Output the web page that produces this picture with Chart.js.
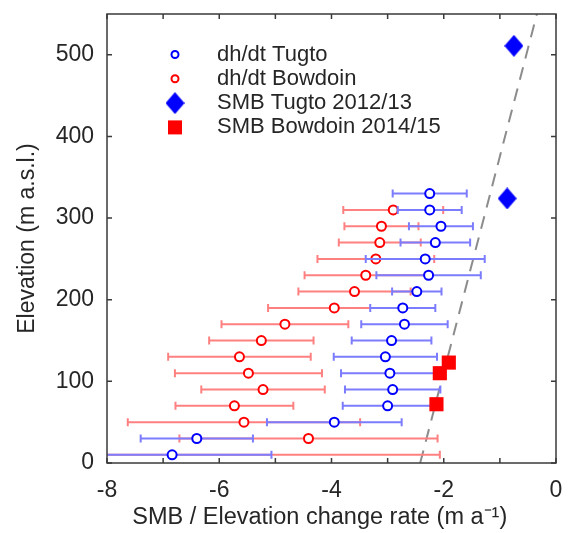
<!DOCTYPE html>
<html>
<head>
<meta charset="utf-8">
<script src="https://cdn.jsdelivr.net/npm/chart.js@4/dist/chart.umd.min.js"></script>
<style>
  html, body { margin: 0; padding: 0; background: #fff; }
  #wrap { width: 569px; height: 533px; }
</style>
</head>
<body>
<div id="wrap"><canvas id="smbChart" width="569" height="533"></canvas></div>
<script>
// elevation bins (m a.s.l.) and dh/dt values (m a-1) with +/- errors
var elevTugto = [330, 310, 290, 270, 250, 230, 210, 190, 170, 150, 130, 110, 90, 70, 50, 30, 10];
var rateTugto = [-2.25, -2.25, -2.05, -2.15, -2.33, -2.27, -2.48, -2.73, -2.70, -2.93, -3.04, -2.96, -2.91, -3.00, -3.95, -6.40, -6.84];
var errTugto  = [0.66, 0.57, 0.57, 0.62, 1.06, 0.93, 0.44, 0.58, 0.77, 0.71, 0.92, 0.87, 0.85, 0.80, 1.20, 1.00, 1.77];

var elevBowdoin = [310, 290, 270, 250, 230, 210, 190, 170, 150, 130, 110, 90, 70, 50, 30, 10];
var rateBowdoin = [-2.90, -3.11, -3.14, -3.21, -3.39, -3.59, -3.95, -4.83, -5.25, -5.64, -5.48, -5.22, -5.73, -5.56, -4.41, -9.00];
var errBowdoin  = [0.89, 0.66, 0.73, 1.04, 1.09, 1.00, 1.18, 1.13, 0.93, 1.27, 1.31, 1.10, 1.05, 2.07, 2.30, 6.93];

// SMB stake measurements
var smbTugtoRate = [-0.75, -0.87];
var smbTugtoElev = [511, 324];
var smbBowdoinRate = [-1.91, -2.07, -2.13];
var smbBowdoinElev = [123, 110, 72];

// gradient line (dashed)
var gradRate = [-2.42, -0.34];
var gradElev = [0, 550];

var xTicks = [-8, -6, -4, -2, 0];
var yTicks = [0, 100, 200, 300, 400, 500];

function pts(xs, ys) {
    return xs.map(function(v, i) { return {x: v, y: ys[i]}; });
}

var FONT = "'Liberation Sans', Arial, Helvetica, sans-serif";
var TEXT = '#262626';

// tall diamond marker
function diamond(w, h, color) {
    var c = document.createElement('canvas');
    c.width = w; c.height = h;
    var g = c.getContext('2d');
    g.fillStyle = color;
    g.beginPath();
    g.moveTo(w / 2, 0); g.lineTo(w, h / 2); g.lineTo(w / 2, h); g.lineTo(0, h / 2);
    g.closePath();
    g.fill();
    return c;
}
var diamondImg = diamond(19, 22, '#0000ff');

var errorBars = {
    id: 'errorBars',
    beforeDatasetDraw: function(chart, args) {
        var ds = chart.data.datasets[args.index];
        if (!ds.errors) return;
        var ctx = chart.ctx, a = chart.chartArea, xs = chart.scales.x, ys = chart.scales.y;
        ctx.save();
        ctx.beginPath();
        ctx.rect(a.left, a.top, a.right - a.left, a.bottom - a.top);
        ctx.clip();
        ctx.strokeStyle = ds.barColor;
        ctx.lineWidth = 2;
        ds.data.forEach(function(p, i) {
            var x0 = xs.getPixelForValue(p.x - ds.errors[i]);
            var x1 = xs.getPixelForValue(p.x + ds.errors[i]);
            var py = ys.getPixelForValue(p.y);
            ctx.beginPath();
            ctx.moveTo(x0, py); ctx.lineTo(x1, py);
            ctx.moveTo(x0, py - 4); ctx.lineTo(x0, py + 4);
            ctx.moveTo(x1, py - 4); ctx.lineTo(x1, py + 4);
            ctx.stroke();
        });
        ctx.restore();
    }
};

// box around the axes with inward ticks on all four sides
var axesBox = {
    id: 'axesBox',
    afterDraw: function(chart) {
        var ctx = chart.ctx, a = chart.chartArea, xs = chart.scales.x, ys = chart.scales.y;
        ctx.save();
        ctx.strokeStyle = '#3a3a3a';
        ctx.lineWidth = 1.5;
        ctx.strokeRect(a.left, a.top, a.right - a.left, a.bottom - a.top);
        ctx.beginPath();
        for (var v = -8; v <= 0; v++) {
            var px = xs.getPixelForValue(v);
            ctx.moveTo(px, a.bottom); ctx.lineTo(px, a.bottom - 5);
            ctx.moveTo(px, a.top); ctx.lineTo(px, a.top + 5);
        }
        yTicks.forEach(function(t) {
            var py = ys.getPixelForValue(t);
            ctx.moveTo(a.left, py); ctx.lineTo(a.left + 5, py);
            ctx.moveTo(a.right, py); ctx.lineTo(a.right - 5, py);
        });
        ctx.stroke();
        ctx.restore();
    }
};

// legend inside the axes, top left
var boxLegend = {
    id: 'boxLegend',
    afterDraw: function(chart) {
        var ctx = chart.ctx;
        var items = chart.data.datasets.filter(function(d) { return d.inLegend; });
        ctx.save();
        ctx.font = '22px ' + FONT;
        ctx.fillStyle = TEXT;
        ctx.textBaseline = 'middle';
        items.forEach(function(d, i) {
            var cy = 54.5 + i * 24.3, cx = 175;
            if (d.pointStyle === 'circle') {
                ctx.beginPath();
                ctx.arc(cx, cy, 3.5, 0, Math.PI * 2);
                ctx.strokeStyle = d.borderColor;
                ctx.lineWidth = 2;
                ctx.stroke();
            } else if (d.pointStyle === 'rect') {
                ctx.fillStyle = d.backgroundColor;
                ctx.fillRect(cx - 7, cy - 7, 14, 14);
            } else {
                ctx.drawImage(d.pointStyle, cx - d.pointStyle.width / 2, cy - d.pointStyle.height / 2);
            }
            ctx.fillStyle = TEXT;
            ctx.fillText(d.label, 217, cy);
        });
        ctx.restore();
    }
};

var chart = document.getElementById('smbChart').getContext('2d');

var myChart = new Chart(chart, {
    type: 'scatter',
    data: {
        datasets: [{
            label: 'dh/dt Tugto',
            data: pts(rateTugto, elevTugto),
            errors: errTugto,
            barColor: '#7c7cff',
            inLegend: true,
            pointStyle: 'circle',
            pointRadius: 4.5,
            borderColor: '#0000ff',
            backgroundColor: '#ffffff',
            borderWidth: 2,
            order: 2
        }, {
            label: 'dh/dt Bowdoin',
            data: pts(rateBowdoin, elevBowdoin),
            errors: errBowdoin,
            barColor: '#ff8080',
            inLegend: true,
            pointStyle: 'circle',
            pointRadius: 4.5,
            borderColor: '#ff0000',
            backgroundColor: '#ffffff',
            borderWidth: 2,
            order: 3
        }, {
            label: 'SMB Tugto 2012/13',
            data: pts(smbTugtoRate, smbTugtoElev),
            inLegend: true,
            pointStyle: diamondImg,
            backgroundColor: '#0000ff',
            borderColor: '#0000ff',
            order: 1
        }, {
            label: 'SMB Bowdoin 2014/15',
            data: pts(smbBowdoinRate, smbBowdoinElev),
            inLegend: true,
            pointStyle: 'rect',
            pointRadius: 10,
            borderWidth: 0,
            backgroundColor: '#ff0000',
            borderColor: '#ff0000',
            order: 1
        }, {
            label: 'gradient',
            type: 'line',
            data: pts(gradRate, gradElev),
            showLine: true,
            pointRadius: 0,
            borderColor: '#8c8c8c',
            borderWidth: 2,
            borderDash: [13, 9],
            order: 5
        }]
    },
    options: {
        responsive: false,
        animation: false,
        layout: { padding: { top: 14, right: 13, left: 0, bottom: 0 } },
        plugins: {
            legend: { display: false },
            tooltip: { enabled: false }
        },
        scales: {
            x: {
                type: 'linear',
                min: -8,
                max: 0,
                grid: { display: false, drawTicks: false },
                border: { display: false },
                ticks: {
                    stepSize: 2,
                    autoSkip: false,
                    padding: 14,
                    color: TEXT,
                    font: { family: FONT, size: 23 },
                    callback: function(v) { return xTicks.indexOf(v) >= 0 ? v : null; }
                },
                title: {
                    display: true,
                    // trailing en spaces nudge the centred label left, as in the original
                    text: 'SMB / Elevation change rate (m a\u207B\u00B9)\u2002\u2002',
                    color: TEXT,
                    font: { family: FONT, size: 23.5 },
                    padding: { top: 0, bottom: 1 }
                },
                afterFit: function(s) {
                    s.height = 70;
                    s.paddingLeft = 0; s.paddingRight = 0;
                }
            },
            y: {
                type: 'linear',
                min: 0,
                max: 550,
                grid: { display: false, drawTicks: false },
                border: { display: false },
                ticks: {
                    stepSize: 100,
                    autoSkip: false,
                    padding: 13,
                    color: TEXT,
                    font: { family: FONT, size: 23 },
                    callback: function(v) { return yTicks.indexOf(v) >= 0 ? v : null; }
                },
                title: {
                    display: true,
                    text: 'Elevation (m a.s.l.)',
                    color: TEXT,
                    font: { family: FONT, size: 23 },
                    padding: { top: 14, bottom: 0 }
                },
                afterFit: function(s) {
                    s.width = 107;
                    s.paddingTop = 0; s.paddingBottom = 0;
                }
            }
        }
    },
    plugins: [errorBars, axesBox, boxLegend]
});
</script>
</body>
</html>
